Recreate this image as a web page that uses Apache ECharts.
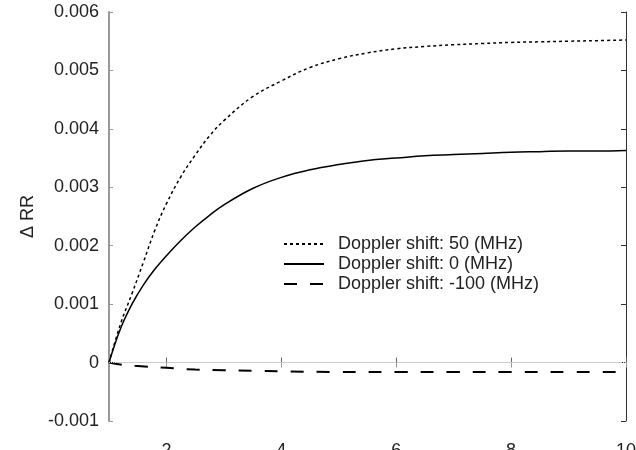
<!DOCTYPE html>
<html>
<head>
<meta charset="utf-8">
<script src="https://cdn.jsdelivr.net/npm/echarts@6/dist/echarts.min.js"></script>
<style>
html,body{margin:0;padding:0;background:#fff;}
#chart{width:636px;height:450px;}
</style>
</head>
<body>
<div id="chart"></div>
<script>
// x positions (shared by the two rising curves)
var xValues = [1, 1.2, 1.4, 1.6, 1.8, 2, 2.25, 2.5, 2.75, 3, 3.5, 4, 4.5, 5, 5.5, 6, 6.5, 7, 7.5, 8, 8.5, 9, 9.5, 10];
var shift50 = [0, 0.00066, 0.00118, 0.00172, 0.00227, 0.00272, 0.00318, 0.00355, 0.00388, 0.00414, 0.00455, 0.00482, 0.00505, 0.00520, 0.00530, 0.00537, 0.00541, 0.00544, 0.00546, 0.00548, 0.00549, 0.00550, 0.00551, 0.00552];
var shift0 = [0, 0.00058, 0.00100, 0.00133, 0.00160, 0.00183, 0.00209, 0.00232, 0.00252, 0.00270, 0.00298, 0.00317, 0.00330, 0.00339, 0.00346, 0.00350, 0.00354, 0.00356, 0.00358, 0.00360, 0.00361, 0.00362, 0.00362, 0.00363];
var xNeg = [1, 1.25, 1.5, 2, 2.5, 3, 3.5, 4, 5, 6, 7, 8, 9, 10];
var shiftNeg100 = [0, -0.00004, -0.00006, -0.00009, -0.00012, -0.00013, -0.00014, -0.00015, -0.00016, -0.00016, -0.00016, -0.00016, -0.00016, -0.00016];
var xTicks = [2, 4, 6, 8, 10];
var seriesNames = ['Doppler shift: 50 (MHz)', 'Doppler shift: 0 (MHz)', 'Doppler shift: -100 (MHz)'];
var yAxisName = 'Δ RR';

function pairs(xs, ys) { return xs.map(function (x, i) { return [x, ys[i]]; }); }

var font = 'Liberation Sans';
var chart = echarts.init(document.getElementById('chart'));
chart.setOption({
  animation: false,
  backgroundColor: '#fff',
  textStyle: { fontFamily: font, color: '#222' },
  grid: { left: 109, top: 12, width: 517, height: 409, outerBoundsMode: 'none', containLabel: false },
  legend: {
    orient: 'vertical',
    left: 278,
    top: 230,
    itemWidth: 40,
    itemHeight: 14,
    itemGap: 2,
    itemStyle: { opacity: 0 },
    textStyle: { fontFamily: font, fontSize: 18, color: '#222', lineHeight: 18, padding: [0, 0, 0, 9] },
    data: seriesNames
  },
  xAxis: [{
    type: 'value', min: 1, max: 10, position: 'bottom',
    axisLine: { lineStyle: { color: '#333', width: 1 } },
    axisTick: { inside: true, length: 5, customValues: xTicks, lineStyle: { color: '#666' } },
    axisLabel: { customValues: xTicks, fontSize: 18, margin: 21, color: '#222', fontFamily: font },
    splitLine: { show: false }
  }, {
    type: 'value', min: 1, max: 10, position: 'top',
    axisLine: { show: true, lineStyle: { color: '#ccc', width: 1 } },
    axisTick: { show: true, inside: true, length: 5, customValues: xTicks, lineStyle: { color: '#999' } },
    axisLabel: { show: false },
    splitLine: { show: false }
  }],
  yAxis: [{
    type: 'value', min: -0.001, max: 0.006, interval: 0.001, position: 'left',
    name: yAxisName, nameLocation: 'middle', nameGap: 67,
    nameTextStyle: { fontSize: 18, color: '#222', fontFamily: font },
    axisLine: { show: true, lineStyle: { color: '#999', width: 2 } },
    axisTick: { show: true, inside: true, length: 4, lineStyle: { color: '#999' } },
    axisLabel: {
      fontSize: 18, margin: 10, color: '#222', fontFamily: font,
      formatter: function (v) { return Math.abs(v) < 1e-9 ? '0' : v.toFixed(3); }
    },
    splitLine: { show: false }
  }, {
    type: 'value', min: -0.001, max: 0.006, interval: 0.001, position: 'right',
    axisLine: { show: true, lineStyle: { color: '#333', width: 1 } },
    axisTick: { show: true, inside: true, length: 5, lineStyle: { color: '#333' } },
    axisLabel: { show: false },
    splitLine: { show: false }
  }],
  series: [{
    name: seriesNames[0], type: 'line', smooth: 0.4, symbol: 'none',
    data: pairs(xValues, shift50),
    lineStyle: { color: '#000', width: 1.5, type: [3, 3] },
    itemStyle: { color: '#000' }
  }, {
    name: seriesNames[1], type: 'line', smooth: 0.4, symbol: 'none',
    data: pairs(xValues, shift0),
    lineStyle: { color: '#000', width: 1.5, type: 'solid' },
    itemStyle: { color: '#000' }
  }, {
    name: seriesNames[2], type: 'line', smooth: true, symbol: 'none',
    data: pairs(xNeg, shiftNeg100),
    lineStyle: { color: '#000', width: 2, type: [13, 13] },
    itemStyle: { color: '#000' },
    markLine: {
      silent: true, symbol: 'none', label: { show: false },
      lineStyle: { color: '#ccc', width: 1, type: [1, 1] },
      data: [{ yAxis: 0 }]
    },
    z: 3
  }]
});
</script>
</body>
</html>
